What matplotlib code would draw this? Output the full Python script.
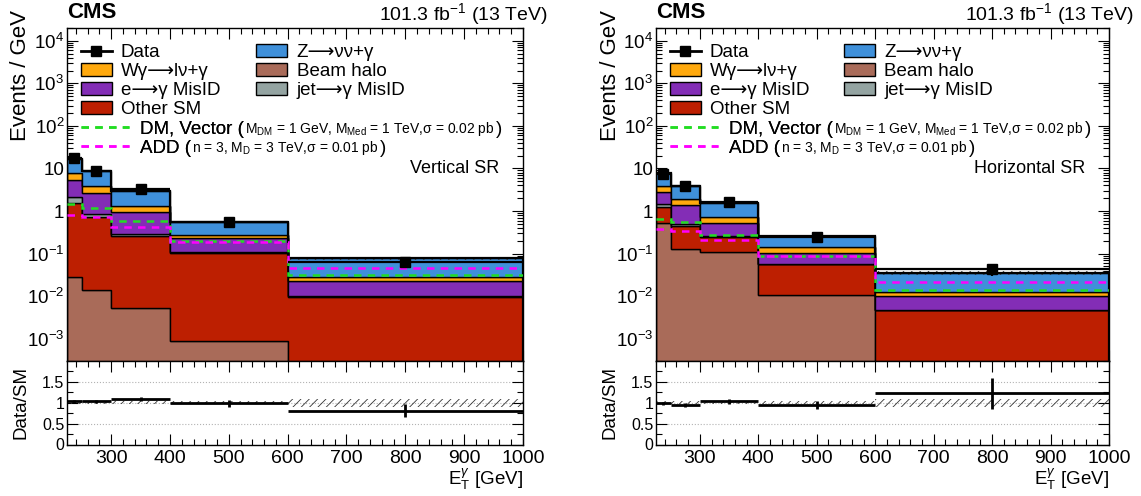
import numpy as np
import matplotlib
matplotlib.use("Agg")
import matplotlib.pyplot as plt
from matplotlib.patches import Patch
from matplotlib.lines import Line2D
from matplotlib.ticker import LogLocator, MultipleLocator, FixedLocator, FuncFormatter, NullFormatter

plt.rcParams['font.family'] = ['Liberation Sans', 'DejaVu Sans']
plt.rcParams['mathtext.fontset'] = 'custom'
plt.rcParams['mathtext.rm'] = 'Liberation Sans'
plt.rcParams['mathtext.it'] = 'Liberation Sans:italic'
plt.rcParams['mathtext.bf'] = 'Liberation Sans:bold'
plt.rcParams['hatch.linewidth'] = 0.6

# ---------------- data ----------------
bin_edges = [225, 250, 300, 400, 600, 1000]

# stack order bottom -> top
process_names = ["Beam halo", "Other SM", "jet⟶γ MisID", "e⟶γ MisID", "Wγ⟶lν+γ", "Z⟶νν+γ"]
process_colors = ["#a96b59", "#bd1f01", "#94a4a2", "#832db6", "#ffa90e", "#3f90da"]

# Vertical SR (events / GeV)
v_halo = [0.029, 0.0142, 0.0053, 0.00089, 0.0]
v_other = [1.50, 0.706, 0.252, 0.104, 0.0095]
v_jet = [0.59, 0.12, 0.029, 0.003, 0.0005]
v_eg = [3.28, 1.79, 0.644, 0.128, 0.013]
v_wg = [2.3, 1.2, 0.41, 0.032, 0.005]
v_znn = [8.9, 4.72, 1.70, 0.287, 0.049]
v_data = [17.2, 8.85, 3.30, 0.545, 0.062]
v_data_relerr = [0.03, 0.04, 0.05, 0.09, 0.19]
v_syst_relerr = [0.03, 0.03, 0.03, 0.03, 0.09]
v_dm = [1.49, 1.17, 0.58, 0.20, 0.031]
v_add = [0.82, 0.72, 0.42, 0.19, 0.047]

# Horizontal SR (events / GeV)
h_halo = [0.52, 0.126, 0.107, 0.0105, 0.0]
h_other = [0.72, 0.314, 0.141, 0.0465, 0.0047]
h_jet = [0.25, 0.07, 0.012, 0.001, 0.0001]
h_eg = [1.39, 0.85, 0.265, 0.047, 0.0052]
h_wg = [1.09, 0.59, 0.20, 0.035, 0.0023]
h_znn = [3.73, 2.02, 0.815, 0.12, 0.0227]
h_data = [7.6, 3.8, 1.60, 0.245, 0.043]
h_data_relerr = [0.04, 0.05, 0.06, 0.10, 0.30]
h_syst_relerr = [0.04, 0.04, 0.04, 0.04, 0.10]
h_dm = [0.665, 0.55, 0.27, 0.088, 0.0141]
h_add = [0.37, 0.34, 0.21, 0.086, 0.022]

y_tick_values = [1e-3, 1e-2, 1e-1, 1, 10, 1e2, 1e3, 1e4]
x_major_ticks = [300, 400, 500, 600, 700, 800, 900, 1000]
ratio_ticks = [0, 0.5, 1, 1.5]

W, H = 1141, 496
fig = plt.figure(figsize=(W / 100, H / 100), dpi=100)


def fx(px):
    return px / W


def fy(px):
    return 1 - px / H


def yfmt(v, pos):
    e = int(round(np.log10(v)))
    if e == 0:
        return "1"
    if e == 1:
        return "10"
    return r"$10^{%d}$" % e


def style_axis(ax):
    ax.tick_params(which='both', direction='in', top=True, right=True, width=0.8)
    ax.tick_params(which='major', length=8)
    ax.tick_params(which='minor', length=4)
    for s in ax.spines.values():
        s.set_linewidth(1.0)


DASH = (0, (3, 2.5))


def panel(left, width, comps, data, derr, syst, dm, add, region):
    edges = np.array(bin_edges, dtype=float)
    centers = 0.5 * (edges[1:] + edges[:-1])
    halfw = 0.5 * (edges[1:] - edges[:-1])

    axm = fig.add_axes([fx(left), fy(361), fx(width), (361 - 28) / H])
    axr = fig.add_axes([fx(left), fy(444.5), fx(width), (444.5 - 361) / H], sharex=axm)

    axm.set_yscale('log')
    bottom = np.full(len(centers), 1e-6)
    for vals, col in zip(comps, process_colors):
        top = bottom + np.array(vals)
        axm.stairs(top, edges, baseline=bottom, fill=True, facecolor=col,
                   edgecolor='black', linewidth=1.0, zorder=2)
        bottom = top
    total = bottom
    syst = np.array(syst)
    axm.stairs(total * (1 + syst), edges, baseline=total * (1 - syst), fill=True,
               facecolor='none', edgecolor='#333333', hatch='////', linewidth=0, zorder=3)
    axm.stairs(total, edges, color='black', linewidth=1.6, zorder=4)

    axm.stairs(dm, edges, baseline=None, color='#22dd22', linestyle=DASH, linewidth=1.8, zorder=5)
    axm.stairs(add, edges, baseline=None, color='#ff00ff', linestyle=DASH, linewidth=1.8, zorder=6)

    data = np.array(data)
    derr = np.array(derr)
    axm.errorbar(centers, data, xerr=halfw, yerr=data * derr, fmt='s', color='black',
                 ms=6.5, lw=1.6, capsize=0, zorder=7)

    axm.set_xlim(225, 1000)
    axm.set_ylim(3e-4, 2e4)
    axm.yaxis.set_major_locator(FixedLocator(y_tick_values))
    axm.yaxis.set_major_formatter(FuncFormatter(yfmt))
    axm.yaxis.set_minor_locator(LogLocator(base=10, subs=np.arange(2, 10), numticks=50))
    axm.yaxis.set_minor_formatter(NullFormatter())
    axm.xaxis.set_major_locator(FixedLocator(x_major_ticks))
    axm.xaxis.set_minor_locator(MultipleLocator(20))
    style_axis(axm)
    axm.tick_params(axis='x', labelbottom=False)
    axm.tick_params(axis='y', labelsize=13.5, pad=2)
    axm.set_ylabel("Events / GeV", fontsize=16, loc='top')
    axm.yaxis.set_label_coords(-0.078, 1.055)

    # legends
    fs = 13.5
    h1 = [Line2D([], [], color='black', marker='s', ms=6.5, lw=2),
          Patch(facecolor=process_colors[4], edgecolor='black', lw=1),
          Patch(facecolor=process_colors[3], edgecolor='black', lw=1),
          Patch(facecolor=process_colors[1], edgecolor='black', lw=1)]
    l1 = ["Data", process_names[4], process_names[3], process_names[1]]
    h2 = [Patch(facecolor=process_colors[5], edgecolor='black', lw=1),
          Patch(facecolor=process_colors[0], edgecolor='black', lw=1),
          Patch(facecolor=process_colors[2], edgecolor='black', lw=1)]
    l2 = [process_names[5], process_names[0], process_names[2]]
    common = dict(frameon=False, fontsize=fs, borderpad=0, borderaxespad=0,
                  handlelength=1.65, handleheight=0.7, handletextpad=0.5,
                  labelspacing=0.1, loc='upper left')
    leg1 = axm.legend(h1, l1, bbox_to_anchor=(0.03, 0.952), **common)
    axm.add_artist(leg1)
    leg2 = axm.legend(h2, l2, bbox_to_anchor=(0.415, 0.952), **common)
    axm.add_artist(leg2)
    h3 = [Line2D([], [], color='#22dd22', ls=DASH, lw=1.8),
          Line2D([], [], color='#ff00ff', ls=DASH, lw=1.8)]
    l3 = ["DM, Vector (", "ADD ("]
    leg3 = axm.legend(h3, l3, frameon=False, fontsize=fs, borderpad=0, borderaxespad=0,
                      handlelength=2.6, handletextpad=0.55, labelspacing=0.1,
                      loc='upper left', bbox_to_anchor=(0.03, 0.722))
    axm.add_artist(leg3)
    inner = [r"M$_{\mathrm{DM}}$ = 1 GeV, M$_{\mathrm{Med}}$ = 1 TeV,σ = 0.02 pb",
             r"n = 3, M$_{\mathrm{D}}$ = 3 TeV,σ = 0.01 pb"]
    for t, s in zip(leg3.get_texts(), inner):
        a = axm.annotate(s, xy=(1, 0), xycoords=t, xytext=(1, 3.1), textcoords='offset points',
                         va='baseline', ha='left', fontsize=10)
        axm.annotate(")", xy=(1, 0), xycoords=(a, t), xytext=(1, 0), textcoords='offset points',
                     va='bottom', ha='left', fontsize=fs)

    axm.text(0.948, 0.578, region, transform=axm.transAxes, ha='right', va='center', fontsize=13)

    # ratio
    ratio = data / total
    axr.stairs(1 + syst, edges, baseline=1 - syst, fill=True, facecolor='none',
               edgecolor='#333333', hatch='////', linewidth=0, zorder=2)
    axr.errorbar(centers, ratio, xerr=halfw, yerr=ratio * derr, fmt='none', color='black',
                 lw=2, capsize=0, zorder=4)
    axr.set_ylim(0, 2)
    axr.yaxis.set_major_locator(FixedLocator(ratio_ticks))
    axr.yaxis.set_minor_locator(MultipleLocator(0.25))
    axr.yaxis.set_major_formatter(FuncFormatter(lambda v, p: "%g" % v))
    axr.grid(axis='y', which='major', ls=':', color='0.7', lw=0.8)
    axr.xaxis.set_major_locator(FixedLocator(x_major_ticks))
    axr.xaxis.set_minor_locator(MultipleLocator(20))
    style_axis(axr)
    axr.tick_params(axis='y', labelsize=11.5, pad=2)
    axr.tick_params(axis='x', labelsize=14, pad=4)
    axr.set_ylabel("Data/SM", fontsize=13.5)
    axr.yaxis.set_label_coords(-0.082, 0.5)
    axr.set_xlabel(r"E$_{\mathrm{T}}^{\gamma}$ [GeV]", fontsize=13.5, loc='right', labelpad=0)
    axr.set_axisbelow(True)

    fig.text(fx(left), fy(13), "CMS", fontsize=16, fontweight='bold', ha='left', va='center')
    fig.text(fx(left + width + 25), fy(14), r"101.3 fb$^{-1}$ (13 TeV)", fontsize=14,
             ha='right', va='center')
    return axm, axr


panel(67, 456, [v_halo, v_other, v_jet, v_eg, v_wg, v_znn], v_data, v_data_relerr,
      v_syst_relerr, v_dm, v_add, "Vertical SR")
panel(656, 453, [h_halo, h_other, h_jet, h_eg, h_wg, h_znn], h_data, h_data_relerr,
      h_syst_relerr, h_dm, h_add, "Horizontal SR")

fig.canvas.draw()
fig.savefig("out.png", dpi=100)
